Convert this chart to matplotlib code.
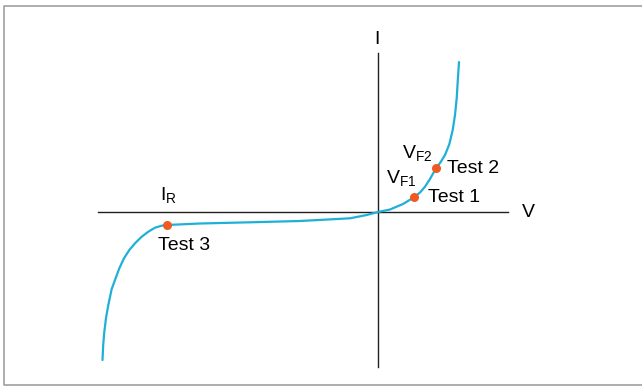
import matplotlib
matplotlib.use("Agg")
import matplotlib.pyplot as plt

# diode I-V curve (origin at the axis crossing, pixel-ish units)
fwd_v = [0, 12, 25, 36, 42, 47, 52, 58, 62.7, 67, 71.3, 74.7, 77, 78.7, 79.7, 81]
fwd_i = [0, 2.5, 8, 14.7, 19.5, 25.3, 33, 43.7, 50, 57, 67.7, 82, 97, 113.7, 130.3, 150]
rev_v = [0, -11.3, -28, -78, -128, -178, -211.3, -216.3, -223, -229.7, -236.3, -243,
         -248.7, -254, -258.7, -263, -266.3, -269.7, -272, -273.7, -274.8, -275.5]
rev_i = [0, -3, -6.3, -9, -10.3, -11.5, -13, -13.7, -15.7, -19.7, -24.7, -31.3,
         -38, -46.3, -56.3, -68, -77, -93, -106, -120, -133, -148]

test_names = ["Test 1", "Test 2", "Test 3"]
test_v = [36, 58, -211.3]
test_i = [14.7, 43.7, -13]

CURVE = "#1fb0d8"
DOT = "#f05a22"
AXIS = "#231f20"

plt.rcParams["font.family"] = ["Liberation Sans", "DejaVu Sans"]
plt.rcParams["mathtext.fontset"] = "custom"
plt.rcParams["mathtext.rm"] = "Liberation Sans"

fig = plt.figure(figsize=(6.42, 3.86), dpi=100)
ax = fig.add_axes([0, 0, 1, 1])
ax.set_xlim(-378, 264)
ax.set_ylim(-174, 212)
ax.axis("off")

# frame round the picture (open on the right, as in the reference)
ax.plot([270, -374, -374, 270], [206, 206, -173, -173], color="#a0a0a0", lw=1.2)

# axes
ax.plot([-280, 130], [0, 0], color=AXIS, lw=1.0)
ax.plot([0, 0], [-155, 159], color=AXIS, lw=1.0)

ax.plot(fwd_v, fwd_i, color=CURVE, lw=1.6, solid_capstyle="round", solid_joinstyle="round")
ax.plot(rev_v, rev_i, color=CURVE, lw=1.6, solid_capstyle="round", solid_joinstyle="round")
ax.plot(test_v, test_i, "o", color=DOT, ms=6.5, mec="none", zorder=5)

fs = 14
ax.text(-1, 173, "I", fontsize=fs, ha="center", va="center")
ax.text(143.7, -0.5, "V", fontsize=fs, ha="left", va="center")
ax.text(50.3, 14.7, test_names[0], fontsize=fs, ha="left", va="center")
ax.text(68.7, 43.7, test_names[1], fontsize=fs, ha="left", va="center")
ax.text(-219.7, -33.5, test_names[2], fontsize=fs, ha="left", va="center")
ax.text(8, 28.7, r"$\mathregular{V_{F1}}$", fontsize=fs, ha="left", va="baseline")
ax.text(23.7, 53.7, r"$\mathregular{V_{F2}}$", fontsize=fs, ha="left", va="baseline")
ax.text(-218, 12, r"$\mathregular{I_{R}}$", fontsize=fs, ha="left", va="baseline")

fig.savefig("out.png", dpi=100)
